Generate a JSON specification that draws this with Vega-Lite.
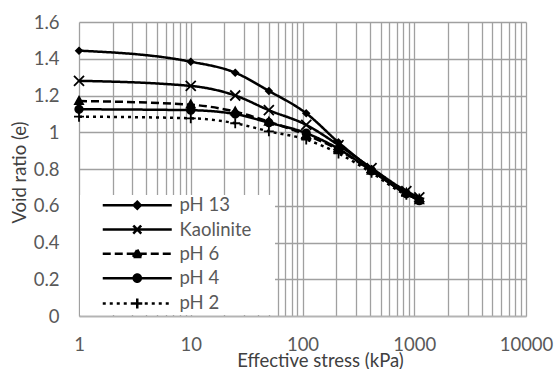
{
  "$schema": "https://vega.github.io/schema/vega-lite/v6.json",
  "width": 447,
  "height": 294,
  "autosize": {"type": "none"},
  "padding": {"left": 79, "top": 22, "right": 29, "bottom": 53},
  "background": "white",
  "config": {
    "view": {"stroke": null},
    "font": "Lato",
    "axis": {
      "ticks": false,
      "gridColor": "#a0a0a0",
      "gridWidth": 1.3,
      "labelFontSize": 18.5,
      "labelColor": "#595959",
      "titleFontSize": 18.5,
      "titleFontWeight": "normal",
      "titleColor": "#404040"
    },
    "legend": {
      "orient": "none",
      "legendX": 1,
      "legendY": 173,
      "title": null,
      "fillColor": "white",
      "padding": 1,
      "symbolSize": 100,
      "symbolOffset": 47,
      "labelOffset": 33,
      "rowPadding": 5.3,
      "labelFontSize": 18.5,
      "labelColor": "#595959",
      "symbolStrokeWidth": 2.5,
      "symbolStrokeColor": "black"
    }
  },
  "data": {
    "values": [
      {"series": "pH 13", "stress": 1, "e": 1.444},
      {"series": "pH 13", "stress": 10, "e": 1.384},
      {"series": "pH 13", "stress": 25, "e": 1.324},
      {"series": "pH 13", "stress": 50, "e": 1.225},
      {"series": "pH 13", "stress": 108, "e": 1.103},
      {"series": "pH 13", "stress": 210, "e": 0.945},
      {"series": "pH 13", "stress": 415, "e": 0.8},
      {"series": "pH 13", "stress": 850, "e": 0.665},
      {"series": "pH 13", "stress": 1110, "e": 0.632},
      {"series": "Kaolinite", "stress": 1, "e": 1.28},
      {"series": "Kaolinite", "stress": 10, "e": 1.252},
      {"series": "Kaolinite", "stress": 25, "e": 1.2},
      {"series": "Kaolinite", "stress": 50, "e": 1.12},
      {"series": "Kaolinite", "stress": 108, "e": 1.04},
      {"series": "Kaolinite", "stress": 210, "e": 0.93},
      {"series": "Kaolinite", "stress": 415, "e": 0.805},
      {"series": "Kaolinite", "stress": 850, "e": 0.68},
      {"series": "Kaolinite", "stress": 1110, "e": 0.645},
      {"series": "pH 6", "stress": 1, "e": 1.17},
      {"series": "pH 6", "stress": 10, "e": 1.15},
      {"series": "pH 6", "stress": 25, "e": 1.112},
      {"series": "pH 6", "stress": 50, "e": 1.057},
      {"series": "pH 6", "stress": 108, "e": 0.985},
      {"series": "pH 6", "stress": 210, "e": 0.905},
      {"series": "pH 6", "stress": 415, "e": 0.79},
      {"series": "pH 6", "stress": 850, "e": 0.67},
      {"series": "pH 6", "stress": 1110, "e": 0.63},
      {"series": "pH 4", "stress": 1, "e": 1.125},
      {"series": "pH 4", "stress": 10, "e": 1.12},
      {"series": "pH 4", "stress": 25, "e": 1.099},
      {"series": "pH 4", "stress": 50, "e": 1.052},
      {"series": "pH 4", "stress": 108, "e": 0.995},
      {"series": "pH 4", "stress": 210, "e": 0.91},
      {"series": "pH 4", "stress": 415, "e": 0.79},
      {"series": "pH 4", "stress": 850, "e": 0.665},
      {"series": "pH 4", "stress": 1110, "e": 0.628},
      {"series": "pH 2", "stress": 1, "e": 1.085},
      {"series": "pH 2", "stress": 10, "e": 1.076},
      {"series": "pH 2", "stress": 25, "e": 1.049},
      {"series": "pH 2", "stress": 50, "e": 1.005},
      {"series": "pH 2", "stress": 108, "e": 0.96},
      {"series": "pH 2", "stress": 210, "e": 0.885},
      {"series": "pH 2", "stress": 415, "e": 0.78},
      {"series": "pH 2", "stress": 850, "e": 0.66},
      {"series": "pH 2", "stress": 1110, "e": 0.64}
    ]
  },
  "encoding": {
    "x": {
      "field": "stress",
      "type": "quantitative",
      "title": "Effective stress (kPa)",
      "scale": {"type": "log", "domain": [1, 10000], "nice": false},
      "axis": {
        "values": [1, 2, 3, 4, 5, 6, 7, 8, 9, 10, 20, 30, 40, 50, 60, 70, 80, 90, 100, 200, 300, 400, 500, 600, 700, 800, 900, 1000, 2000, 3000, 4000, 5000, 6000, 7000, 8000, 9000, 10000],
        "format": "d",
        "labelExpr": "indexof(['1', '10', '100', '1000', '10000'], datum.label) < 0 ? '' : datum.label",
        "labelOverlap": false,
        "labelFlush": false,
        "labelPadding": 34,
        "labelBaseline": "alphabetic",
        "domainColor": "#b4b4b4",
        "domainWidth": 1.3,
        "titleX": 241,
        "titleY": 50,
        "titleBaseline": "alphabetic"
      }
    },
    "y": {
      "field": "e",
      "type": "quantitative",
      "title": "Void ratio (e)",
      "scale": {"domain": [0, 1.6], "nice": false, "zero": false},
      "axis": {
        "values": [0, 0.2, 0.4, 0.6, 0.8, 1, 1.2, 1.4, 1.6],
        "format": "~g",
        "domain": false,
        "labelPadding": 20,
        "titleX": -54,
        "titleY": 150,
        "titleBaseline": "alphabetic"
      }
    }
  },
  "layer": [
    {
      "mark": {"type": "line", "color": "black", "strokeWidth": 2.5, "interpolate": "monotone"},
      "encoding": {
        "strokeDash": {
          "field": "series",
          "type": "nominal",
          "scale": {
            "domain": ["pH 13", "Kaolinite", "pH 6", "pH 4", "pH 2"],
            "range": [[1, 0], [1, 0], [8, 4], [1, 0], [3, 4]]
          }
        }
      }
    },
    {
      "transform": [{"filter": "false"}],
      "mark": {"type": "point", "filled": false, "color": "black", "strokeWidth": 2.5, "opacity": 1},
      "encoding": {
        "shape": {
          "field": "series",
          "type": "nominal",
          "scale": {
            "domain": ["pH 13", "Kaolinite", "pH 6", "pH 4", "pH 2"],
            "range": [
              "M-6.9,0H6.9M0,-0.7L0.7,0L0,0.7L-0.7,0ZM0,-0.25L0.25,0L0,0.25L-0.25,0ZM26.2,0",
              "M-6.9,0H6.9M-0.8,-0.8L0.8,0.8M-0.8,0.8L0.8,-0.8M26.2,0",
              "M-6.9,0H6.9M0,-0.85L0.85,0.62M0.85,0.62L-0.85,0.62M-0.85,0.62L0,-0.85M0,-0.3L0.3,0.3L-0.3,0.3ZM26.2,0",
              "M-6.9,0H6.9M-0.72,0A0.72,0.72,0,1,0,0.72,0A0.72,0.72,0,1,0,-0.72,0ZM-0.3,0A0.3,0.3,0,1,0,0.3,0A0.3,0.3,0,1,0,-0.3,0ZM26.2,0",
              "M-6.9,0H6.9M-1,0H-0.5M-0.5,0H0M0,0H0.5M0.5,0H1M0,-1V-0.5M0,-0.5V0M0,0V0.5M0,0.5V1M26.2,0"
            ]
          }
        }
      }
    },
    {
      "transform": [{"filter": "datum.series === 'pH 13'"}],
      "mark": {"type": "point", "filled": true, "color": "black", "stroke": "black", "strokeWidth": 1.8, "opacity": 1, "size": 100, "shape": "M0,-0.6L0.6,0L0,0.6L-0.6,0Z"}
    },
    {
      "transform": [{"filter": "datum.series === 'Kaolinite'"}],
      "mark": {"type": "point", "filled": true, "color": "black", "stroke": "black", "strokeWidth": 1.8, "opacity": 1, "size": 100, "shape": "M-1,-1L1,1M-1,1L1,-1"}
    },
    {
      "transform": [{"filter": "datum.series === 'pH 6'"}],
      "mark": {"type": "point", "filled": true, "color": "black", "stroke": "black", "strokeWidth": 1.8, "opacity": 1, "size": 100, "shape": "M0,-0.85L0.8,0.6L-0.8,0.6Z"}
    },
    {
      "transform": [{"filter": "datum.series === 'pH 4'"}],
      "mark": {"type": "point", "filled": true, "color": "black", "stroke": "black", "strokeWidth": 1.8, "opacity": 1, "size": 100, "shape": "M-0.75,0A0.75,0.75,0,1,0,0.75,0A0.75,0.75,0,1,0,-0.75,0Z"}
    },
    {
      "transform": [{"filter": "datum.series === 'pH 2'"}],
      "mark": {"type": "point", "filled": true, "color": "black", "stroke": "black", "strokeWidth": 1.8, "opacity": 1, "size": 100, "shape": "M-1,0H1M0,-1V1"}
    }
  ]
}
